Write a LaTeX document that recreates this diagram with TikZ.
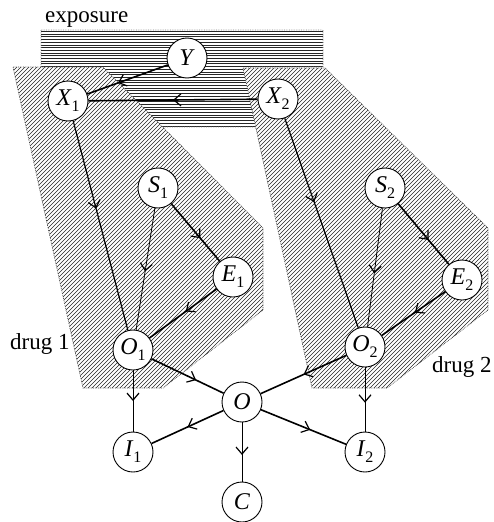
\documentclass[tikz,border=0pt]{standalone}
\usepackage{fontspec}
\setmainfont{Liberation Serif}
\usetikzlibrary{decorations.markings,arrows.meta}
\newcommand\vlab[2]{\textit{#1}\raisebox{-6pt}{\fontsize{16}{16}\selectfont #2}}
\begin{document}
\begin{tikzpicture}[x=1pt,y=-1pt,
  var/.style={circle,draw,fill=white,line width=0.9pt,minimum size=40pt,inner sep=0pt,font=\fontsize{24}{24}\selectfont},
  thickedge/.style={line width=1.6pt},
  mededge/.style={line width=1.2pt},
  thinedge/.style={line width=0.8pt},
  midarrow/.style={postaction={decorate},decoration={markings,mark=at position #1 with {\arrow{Straight Barb[length=7pt,width=12pt,line width=1.2pt]}}}},
  midarrow/.default=0.5,
  hatchline/.style={line width=0.42pt,black!85},
  regionborder/.style={draw=black!75,densely dotted,line width=0.7pt}
]
\useasboundingbox (0,0) rectangle (493,522);
% exposure region (horizontal hatching)
\begin{scope}
\clip (41,30) -- (323,30) -- (323,67) -- (250,67) -- (262,127) -- (155,127) -- (98,67) -- (41,67) -- cycle;
\foreach \yy in {31.3,34,...,128} {\draw[hatchline] (40,\yy) -- (330,\yy);}
\end{scope}
\draw[regionborder,black!50] (41,30) -- (323,30) -- (323,67) -- (250,67) -- (262,127) -- (155,127) -- (98,67) -- (41,67) -- cycle;
% drug 1 region
\begin{scope}
\clip (13,67) -- (103,67) -- (263,228) -- (263,310) -- (163,388) -- (83,388) -- cycle;
\fill[white] (0,60) rectangle (270,395);
\foreach \c in {-400,-396,...,280} {\draw[hatchline] (\c,400) -- (\c+340,60);}
\end{scope}
\draw[regionborder] (13,67) -- (103,67) -- (263,228) -- (263,310) -- (163,388) -- (83,388) -- cycle;
% drug 2 region
\begin{scope}
\clip (243,68) -- (325,68) -- (488,228) -- (488,310) -- (387,388) -- (312,388) -- cycle;
\fill[white] (230,60) rectangle (493,395);
\foreach \c in {-170,-166,...,500} {\draw[hatchline] (\c,400) -- (\c+340,60);}
\end{scope}
\draw[regionborder] (243,68) -- (325,68) -- (488,228) -- (488,310) -- (387,388) -- (312,388) -- cycle;
% labels
\node[font=\fontsize{23}{23}\selectfont,inner sep=0pt,anchor=base west] (exp) at (45,22) {exposure};
\node[font=\fontsize{23}{23}\selectfont,inner sep=0pt,anchor=base west] (d1) at (10,349) {drug 1};
\node[font=\fontsize{23}{23}\selectfont,inner sep=0pt,anchor=base west] (d2) at (432,372) {drug 2};
% nodes
\node[var] (Y) at (187,58) {\textit{Y}};
\node[var] (X1) at (68,101) {\vlab{X}{1}};
\node[var] (X2) at (278,99) {\vlab{X}{2}};
\node[var] (S1) at (158,188) {\vlab{S}{1}};
\node[var] (E1) at (233,277) {\vlab{E}{1}};
\node[var] (O1) at (133,350) {\vlab{O}{1}};
\node[var] (S2) at (385,188) {\vlab{S}{2}};
\node[var] (E2) at (462,280) {\vlab{E}{2}};
\node[var] (O2) at (365,347) {\vlab{O}{2}};
\node[var] (O) at (242,402) {\textit{O}};
\node[var] (I1) at (133,452) {\vlab{I}{1}};
\node[var] (I2) at (365,452) {\vlab{I}{2}};
\node[var] (C) at (242,502) {\textit{C}};
% edges
\draw[thickedge,midarrow=0.62] (Y) -- (X1);
\draw[thickedge,midarrow=0.5] (X2) -- (X1);
\draw[mededge,midarrow=0.42] (X1) -- (O1);
\draw[mededge,midarrow=0.40] (X2) -- (O2);
\draw[thinedge,midarrow=0.52] (S1) -- (O1);
\draw[thickedge,midarrow=0.6] (S1) -- (E1);
\draw[thickedge,midarrow=0.46] (E1) -- (O1);
\draw[thinedge,midarrow=0.55] (S2) -- (O2);
\draw[thickedge,midarrow=0.6] (S2) -- (E2);
\draw[thickedge,midarrow=0.48] (E2) -- (O2);
\draw[thickedge,midarrow=0.62] (O1) -- (O);
\draw[thickedge,midarrow=0.5] (O2) -- (O);
\draw[thickedge,midarrow=0.5] (O) -- (I1);
\draw[thickedge,midarrow=0.58] (O) -- (I2);
\draw[thinedge,midarrow=0.55] (O) -- (C);
\draw[thinedge,midarrow=0.5] (O1) -- (I1);
\draw[thinedge,midarrow=0.55] (O2) -- (I2);
\end{tikzpicture}
\end{document}
